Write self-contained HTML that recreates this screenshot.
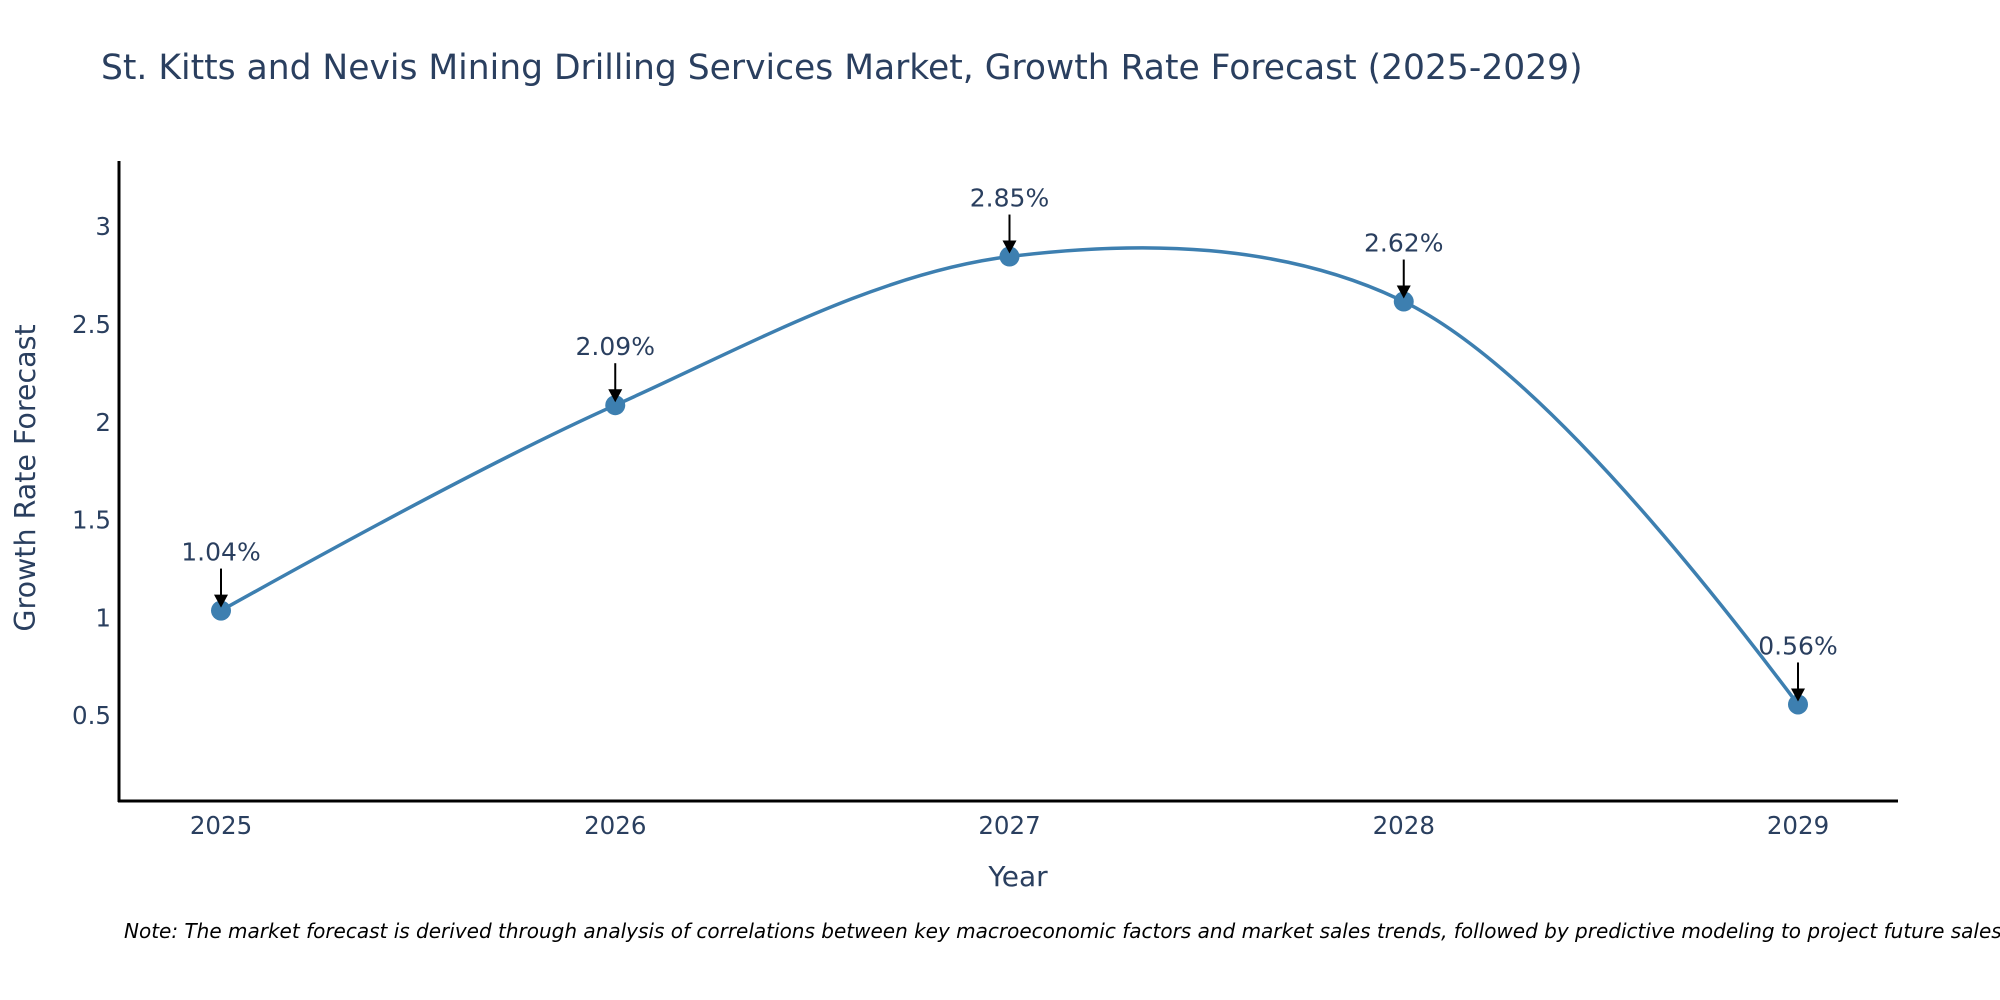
<!DOCTYPE html>
<html><head><meta charset="utf-8"><style>
html,body{margin:0;padding:0;background:#fff;}
svg{display:block;font-family:"DejaVu Sans","Liberation Sans",sans-serif;}
</style></head><body>
<svg id="chart" width="2000" height="1000" viewBox="0 0 2000 1000" xmlns="http://www.w3.org/2000/svg">
<text x="101" y="79" font-size="34.5" fill="#2a3f5f">St. Kitts and Nevis Mining Drilling Services Market, Growth Rate Forecast (2025-2029)</text>
<g id="yticks"></g>
<g id="xticks"></g>
<line x1="119" y1="161" x2="119" y2="802" stroke="#000" stroke-width="3"/>
<line x1="118" y1="801" x2="1898" y2="801" stroke="#000" stroke-width="3"/>
<path id="line" fill="none" stroke="#3d7fb0" stroke-width="3.5"/>
<g id="marks"></g>
<g id="annots"></g>
<text x="1018" y="886" font-size="28" fill="#2a3f5f" text-anchor="middle">Year</text>
<text transform="translate(35,478) rotate(-90)" font-size="28.5" fill="#2a3f5f" text-anchor="middle">Growth Rate Forecast</text>
<text x="124" y="938" font-size="20" font-style="italic" fill="#000">Note: The market forecast is derived through analysis of correlations between key macroeconomic factors and market sales trends, followed by predictive modeling to project future sales.</text>
</svg>
<script>
const years = [2025, 2026, 2027, 2028, 2029];
const values = [1.04, 2.09, 2.85, 2.62, 0.56];
const labels = ["1.04%", "2.09%", "2.85%", "2.62%", "0.56%"];
const yTicks = [0.5, 1, 1.5, 2, 2.5, 3];
const yTickLabels = ["0.5", "1", "1.5", "2", "2.5", "3"];

const NS = "http://www.w3.org/2000/svg";
const X0 = 221, X1 = 1798;
const xScale = v => X0 + (v - years[0]) * (X1 - X0) / (years[years.length-1] - years[0]);
const yScale = v => 814 - v * 195.6;
function mk(tag, attrs, parent){const e=document.createElementNS(NS,tag);for(const k in attrs)e.setAttribute(k,attrs[k]);parent.appendChild(e);return e;}

const yt = document.getElementById('yticks');
yTicks.forEach((t,i)=>{
  const e = mk('text',{x:111,y:yScale(t)+8,'font-size':24.5,fill:'#2a3f5f','text-anchor':'end'},yt);
  
  
  e.textContent = yTickLabels[i];
});
const xt = document.getElementById('xticks');
years.forEach(y=>{
  const e = mk('text',{x:xScale(y),y:834,'font-size':24.5,fill:'#2a3f5f','text-anchor':'middle'},xt);
  
  
  e.textContent = y;
});

const pts = years.map((y,i)=>[xScale(y), yScale(values[i])]);
function tangent(p,t,n,s){
  const d1x=p[0]-t[0],d1y=p[1]-t[1],d2x=n[0]-t[0],d2y=n[1]-t[1];
  const d1a=Math.pow(d1x*d1x+d1y*d1y,0.25),d2a=Math.pow(d2x*d2x+d2y*d2y,0.25);
  const nx=(d2a*d2a*d1x-d1a*d1a*d2x)*s,ny=(d2a*d2a*d1y-d1a*d1a*d2y)*s;
  const den1=3*d2a*(d1a+d2a),den2=3*d1a*(d1a+d2a);
  return [[t[0]+nx/den1,t[1]+ny/den1],[t[0]-nx/den2,t[1]-ny/den2]];
}
const tg=[];
for(let i=1;i<pts.length-1;i++) tg.push(tangent(pts[i-1],pts[i],pts[i+1],1));
let d='M'+pts[0]+'Q'+tg[0][0]+' '+pts[1];
for(let i=2;i<pts.length-1;i++) d+='C'+tg[i-2][1]+' '+tg[i-1][0]+' '+pts[i];
d+='Q'+tg[pts.length-3][1]+' '+pts[pts.length-1];
document.getElementById('line').setAttribute('d',d);

const mg=document.getElementById('marks'), ag=document.getElementById('annots');
pts.forEach((p,i)=>{
  const c=mk('circle',{cx:p[0],cy:p[1],r:10,fill:'#3d7fb0'},mg);
  
  
  const g=mk('g',{},ag);
  
  
  mk('line',{x1:p[0],y1:p[1]-42,x2:p[0],y2:p[1]-14,stroke:'#000','stroke-width':2},g);
  mk('path',{d:`M${p[0]-7},${p[1]-16} L${p[0]+7},${p[1]-16} L${p[0]},${p[1]-3} Z`,fill:'#000'},g);
  const t=mk('text',{x:p[0],y:p[1]-50,'font-size':25,fill:'#2a3f5f','text-anchor':'middle'},g);
  t.textContent=labels[i];
});
</script>
</body></html>
